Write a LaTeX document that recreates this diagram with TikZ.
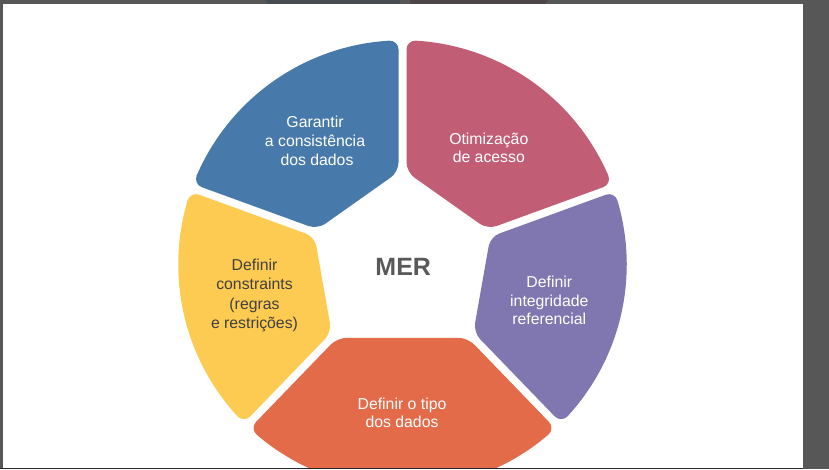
\documentclass[tikz,border=0pt]{standalone}
\usepackage{fontspec}
\newfontfamily\lsans{Liberation Sans}
\definecolor{bgGray}{HTML}{575757}
\definecolor{segBlue}{HTML}{477AAA}
\definecolor{segRed}{HTML}{C15E76}
\definecolor{segPurple}{HTML}{8076B0}
\definecolor{segOrange}{HTML}{E36B4A}
\definecolor{segYellow}{HTML}{FECB52}
\definecolor{txtDark}{HTML}{404040}
\definecolor{txtMer}{HTML}{595959}
\definecolor{topBlue}{HTML}{464C52}
\definecolor{topRed}{HTML}{4F4549}
\def\cx{402.5}
\def\cy{204.5}
\def\R{224.5}
% #1 colour, #2 start gap angle, #3 inner radius there, #4 end gap angle, #5 inner radius there
\newcommand{\wheelseg}[5]{%
  \pgfmathsetmacro{\sa}{#2+1.02}%
  \pgfmathsetmacro{\sb}{#4-1.02}%
  \pgfmathsetmacro{\st}{(\sb-\sa)/12}%
  \fill[#1, rounded corners=9.5pt]
    ({\cx+#3*cos(#2)+4*cos(#2+90)},{\cy+#3*sin(#2)+4*sin(#2+90)})
    -- ({\cx+\R*cos(\sa)},{\cy+\R*sin(\sa)})
    \foreach \k in {1,...,11} { -- ({\cx+\R*cos(\sa+\k*\st)},{\cy+\R*sin(\sa+\k*\st)}) }
    -- ({\cx+\R*cos(\sb)},{\cy+\R*sin(\sb)})
    -- ({\cx+#5*cos(#4)+4*cos(#4-90)},{\cy+#5*sin(#4)+4*sin(#4-90)})
    -- cycle;
}
\tikzset{
  lbl/.style={font=\lsans\fontsize{15.8}{18.7}\selectfont, align=center, text=white, inner sep=0pt},
  lbldark/.style={lbl, text=txtDark, font=\lsans\fontsize{15.8}{19.2}\selectfont},
  mer/.style={font=\lsans\bfseries\fontsize{25}{30}\selectfont, text=txtMer, inner sep=0pt}
}
\begin{document}
\begin{tikzpicture}[x=1pt,y=1pt]
\useasboundingbox (0,0) rectangle (829,469);
\fill[bgGray] (0,0) rectangle (829,469);
\fill[topBlue] (265,469) -- (400,469) -- (400,465) -- (268,465) -- cycle;
\fill[topRed] (410,469) -- (548,469) -- (545,465) -- (410,465) -- cycle;
\fill[black!85] (0,0) rectangle (803,1.3);
\fill[white] (3,1.3) rectangle (803,465);
\begin{scope}
\clip (3,1.3) rectangle (803,465);
\wheelseg{segBlue}{90}{92.5}{160}{92}
\wheelseg{segRed}{20}{92}{90}{92.5}
\wheelseg{segPurple}{-46}{98}{20}{92}
\wheelseg{segOrange}{-134}{98}{-46}{98}
\wheelseg{segYellow}{160}{92}{226}{98}
\end{scope}
\node[lbl] (tBlue) at (315,328) {Garantir\\a consistência\\\hspace*{0.25em}dos dados};
\node[lbl] (tRed) at (488.8,321) {Otimização\\de acesso};
\node[lbl] (tPurple) at (549.3,168.5) {Definir\\integridade\\referencial};
\node[lbl] (tOrange) at (402,56.3) {Definir o tipo\\dos dados};
\node[lbldark] (tYellow) at (254.5,173.5) {Definir\\constraints\\(regras\\e restrições)};
\node[mer] (tMer) at (403.2,202.5) {MER};
\end{tikzpicture}
\end{document}
